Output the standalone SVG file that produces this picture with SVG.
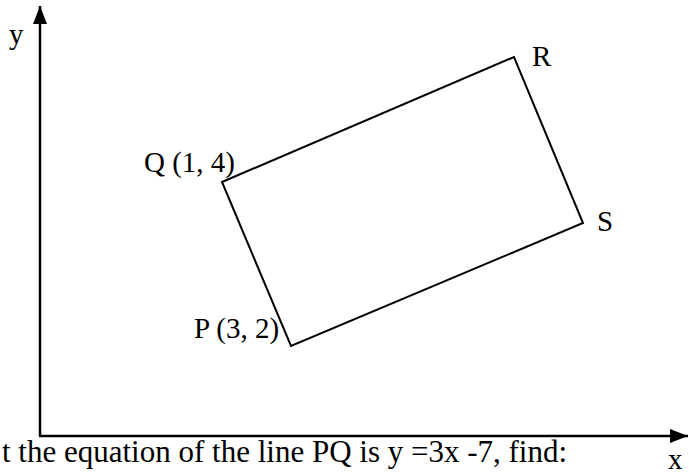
<svg xmlns="http://www.w3.org/2000/svg" width="689" height="474" viewBox="0 0 689 474">
<style>
text{font-family:"Liberation Serif","Times New Roman",serif;fill:#000}
.lbl{font-size:29px}
.axl{font-size:29px}
.cap{font-size:31px}
.ax{stroke:#000;stroke-width:2.5;fill:none}
.edge{stroke:#000;stroke-width:2;fill:none}
</style>
<defs>
<marker id="ah" markerUnits="userSpaceOnUse" markerWidth="20" markerHeight="20" refX="18" refY="7" orient="auto">
<path d="M0,0 L18,7 L0,14 Z" fill="#000"/>
</marker>
</defs>
<rect width="689" height="474" fill="#fff"/>
<g id="axes">
<line class="ax" x1="40" y1="436" x2="40" y2="6" marker-end="url(#ah)"/>
<line class="ax" x1="39" y1="436" x2="688" y2="436" marker-end="url(#ah)"/>
<text class="axl" x="9" y="44">y</text>
<text class="axl" x="668" y="469">x</text>
</g>
<g id="connectors">
<polygon class="edge" points="222,182 514,57 583,223 291,346"/>
</g>
<g id="Q"><text class="lbl" x="144" y="172">Q (1, 4)</text></g>
<g id="R"><text class="lbl" x="532" y="66">R</text></g>
<g id="S"><text class="lbl" x="597" y="231">S</text></g>
<g id="P"><text class="lbl" x="194" y="338">P (3, 2)</text></g>
<text class="cap" x="2" y="462">t the equation of the line PQ is y =3x -7, find:</text>
</svg>
